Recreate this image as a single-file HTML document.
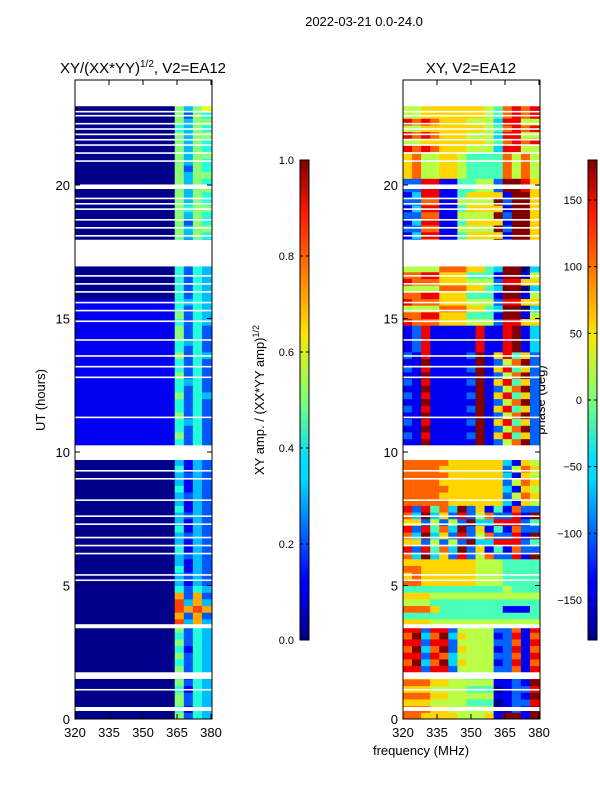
<!DOCTYPE html>
<html><head><meta charset="utf-8"><style>
body{margin:0;background:#fff;font-family:"Liberation Sans",sans-serif}
svg text{font-family:"Liberation Sans",sans-serif;fill:#000}
</style></head><body>
<svg id="fig" width="600" height="800" xmlns="http://www.w3.org/2000/svg">
<text x="364" y="26" font-size="13" text-anchor="middle">2022-03-21 0.0-24.0</text>
<text x="143" y="73" font-size="15" text-anchor="middle">XY/(XX*YY)<tspan font-size="10" dy="-6">1/2</tspan><tspan dy="6">, V2=EA12</tspan></text>
<text x="471" y="73" font-size="15" text-anchor="middle">XY, V2=EA12</text>
<text transform="translate(45,400) rotate(-90)" font-size="13" text-anchor="middle">UT (hours)</text>
<text x="421" y="755" font-size="13" text-anchor="middle">frequency (MHz)</text>
<text transform="translate(264,400) rotate(-90)" font-size="13" text-anchor="middle">XY amp. / (XX*YY amp)<tspan font-size="9" dy="-5">1/2</tspan></text>
<text transform="translate(545,400) rotate(-90)" font-size="13" text-anchor="middle">phase (deg)</text>
<defs>
<linearGradient id="jet" x1="0" y1="1" x2="0" y2="0">
<stop offset="0" stop-color="#00007f"/><stop offset="0.11" stop-color="#0000ff"/><stop offset="0.125" stop-color="#0000ff"/><stop offset="0.34" stop-color="#00dcff"/><stop offset="0.375" stop-color="#0df"/><stop offset="0.5" stop-color="#7dff7a"/><stop offset="0.64" stop-color="#ffe600"/><stop offset="0.66" stop-color="#ffd000"/><stop offset="0.89" stop-color="#ff1800"/><stop offset="1" stop-color="#7f0000"/>
</linearGradient>
<clipPath id="clipL"><rect x="75" y="80" width="137" height="639"/></clipPath>
<clipPath id="clipR"><rect x="403" y="80" width="137" height="639"/></clipPath>
</defs>
<g id="left" clip-path="url(#clipL)"></g>
<g id="right" clip-path="url(#clipR)"></g>
<g id="axes"></g>
</svg>
<script>
const freqEdges=[320,324,328,332,336,340,344,348,352,356,360,364,368,372,376,380.5];
const ampRows=[
"000000000005243","000000000004143","000000000005243","000000000005243","000000000004143","000000000005243",
"000000000004143","000000000005243","000000000004243","000000000005243","000000000004143","000000000005243",
"000000000004243","000000000005243",
"000000000008373","000000000007272","000000000008787","000000000008373","000000000007272","000000000004243",
"000000000003132","000000000003232","000000000004132","000000000003132","000000000003232","000000000004132",
"000000000003132","000000000003232","000000000004132","000000000003132","000000000003232","000000000004132",
"000000000003132","000000000003232","000000000004132","000000000003132","000000000003232","000000000004132",
"000000000003132","000000000003232",
"000000000003232","111111111114242","111111111115242","111111111114242","111111111114342","111111111115242",
"111111111114242","111111111114242","111111111115243","111111111114242","111111111114342","111111111115242",
"111111111114242","111111111114242","111111111115243","111111111114242","111111111114342","111111111115242",
"111111111115242","111111111114243","111111111115243","111111111114243","111111111114343","000000000004243",
"000000000004243","000000000004243","000000000004243","000000000004243",
"000000000004243","000000000004243","000000000004243","000000000004243",
"000000000005354","000000000005355","000000000005254","000000000005354","000000000005455","000000000005354",
"000000000005354","000000000005355","000000000005354","000000000005355","000000000005254","000000000005354",
"000000000005355","000000000005354","000000000005354","000000000005355","000000000004354","000000000005355",
"000000000005254","000000000005356","000000000004354","000000000005355","000000000004354","000000000005355"];
const phaseRows=[
"776666555619919","777665555511219","666555544401228","777665555511219","666555544401228","777665555511219",
"666555544401228","882882555522718","793793655512817","882873555522718","793792655512817","882882555522718",
"793793655512817","882882555522718",
"666555555555555","444444444444444","777644444441114","555444444444444","666555555555555","444444444445444",
"776666665554444","676666665554444","776666665554444","666666665554444",
"739362825722819","828473926141722","662525293388824","739362825722819","828473926141722","662525293388824",
"739362825722819","828473926141722",
"777776666663165","777766666662576","777776666663165","777766666662576","777776666663165","777766666662576",
"777776666663165","777766666662576","777776666663165",
"119111119125792","218111129168462","119111119125792","218111129168462","119111119125792","218111129168462",
"119111119125792","218111129168462","119111119125792","218111129168462","119111119125792","218111129168462",
"119111119125792","218111129168462",
"128111118118913","128111118118913","128111118118913","128111118118913",
"877766655528866","778866644419915","555577766439903","877766655528866","778866644419915","555577766439903",
"877766655528866","778866644419915","555577766439903",
"555577766439903","555577766439903","555577766439903",
"227711555592996","138811466661996","227711555592996","138811466661996","227711555592996","138811466661996",
"227711555592996","138811466661996","228811445529986","228811445529986",
"675566544447575","675566544447575","675566544447575","675566544447575",
"878766655538855","556666666547878","878766655538855","556666666547878","878766655538855","556666666547878",
"556666666547878","556666666547878","556666666547878","556666666547878"];
const gapBands=[[0.3,0.45],[1.5,1.75],[3.4,3.55],[9.7,10.25],[16.95,17.95],[19.85,20.02],[22.95,24]];
const thinGaps=[1.1,5.2,5.4,6.2,6.5,6.8,7.3,7.6,8.2,9.0,9.3,11.3,12.8,13.2,13.6,14.2,14.9,15.3,15.6,16.0,16.3,16.6,18.1,18.4,18.7,19.1,19.3,19.5,20.9,21.2,21.5,21.7,21.9,22.1,22.3,22.6,22.75];
const xTicks=[320,335,350,365,380];
const yTicks=[0,5,10,15,20];
const ampTicks=[0.0,0.2,0.4,0.6,0.8,1.0];
const phaseTicks=[-150,-100,-50,0,50,100,150];
const rowHours=0.25;

const NS="http://www.w3.org/2000/svg";
const fxL=f=>75+(f-320)*34/15, fxR=f=>403+(f-320)*34/15;
const fy=h=>719-h*26.7;
const cbY=v=>640-v*480, cbYp=p=>640-(p+180)/360*480;
function jet(v){const c=t=>Math.round(255*Math.max(0,Math.min(1,t)));return `rgb(${c(1.5-Math.abs(4*v-3))},${c(1.5-Math.abs(4*v-2))},${c(1.5-Math.abs(4*v-1))})`;}
function mk(tag,attrs,parent){const e=document.createElementNS(NS,tag);for(const k in attrs)e.setAttribute(k,attrs[k]);parent.appendChild(e);return e;}
function drawHeat(gid,rows,fx,valFn,name){
  const g=document.getElementById(gid);
  rows.forEach((row,i)=>{
    for(let j=0;j<row.length;j++){
      const r=mk('rect',{x:fx(freqEdges[j]),y:fy((i+1)*rowHours),width:fx(freqEdges[j+1])-fx(freqEdges[j])+0.5,height:fy(i*rowHours)-fy((i+1)*rowHours)+0.5,fill:jet(valFn(+row[j]))},g);
      
      
    }
  });
  gapBands.forEach(b=>{const r=mk('rect',{x:fx(320),y:fy(b[1]),width:140,height:fy(b[0])-fy(b[1]),fill:'#fff'},g);
    
    });
  thinGaps.forEach(h=>{const r=mk('rect',{x:fx(320),y:fy(h)-0.7,width:140,height:1.6,fill:'#fff'},g);
    
    });
}
drawHeat('left',ampRows,fxL,c=>(c+0.1)/10,'amp-cell');
drawHeat('right',phaseRows,fxR,c=>c/9,'phase-cell');

const ax=document.getElementById('axes');
function frame(x,y,w,h,name){const r=mk('rect',{x:x,y:y,width:w,height:h,fill:'none',stroke:'#000','stroke-width':1},ax);
  
  }
frame(75,80,137,639,'left-axes-frame');
frame(403,80,137,639,'right-axes-frame');
[[fxL,75],[fxR,403]].forEach(([fx,x0],k)=>{
  xTicks.forEach(t=>{const x=fx(t);
    mk('line',{x1:x,x2:x,y1:719,y2:714,stroke:'#000'},ax);mk('line',{x1:x,x2:x,y1:80,y2:85,stroke:'#000'},ax);
    const tx=mk('text',{x:x,y:737,'font-size':13,'text-anchor':'middle'},ax);tx.textContent=t;
    
    });
  yTicks.forEach(t=>{const y=fy(t);
    mk('line',{x1:x0,x2:x0+5,y1:y,y2:y,stroke:'#000'},ax);mk('line',{x1:x0+137,x2:x0+132,y1:y,y2:y,stroke:'#000'},ax);
    const tx=mk('text',{x:x0-5,y:y+5,'font-size':13,'text-anchor':'end'},ax);tx.textContent=t;
    
    });
});
function cbar(x,ticks,yf,fmt,name){
  const r=mk('rect',{x:x,y:160,width:9,height:480,fill:'url(#jet)',stroke:'#000','stroke-width':1},ax);
  
  
  ticks.forEach(t=>{const y=yf(t);
    mk('line',{x1:x,x2:x+3,y1:y,y2:y,stroke:'#000'},ax);mk('line',{x1:x+9,x2:x+6,y1:y,y2:y,stroke:'#000'},ax);
    const tx=mk('text',{x:x-6,y:y+4,'font-size':11,'text-anchor':'end'},ax);tx.textContent=fmt(t);
    
    });
}
cbar(300,ampTicks,cbY,t=>t.toFixed(1),'amp-colorbar');
cbar(588,phaseTicks,cbYp,t=>t<0?'\u2212'+(-t):''+t,'phase-colorbar');
</script>
</body></html>
